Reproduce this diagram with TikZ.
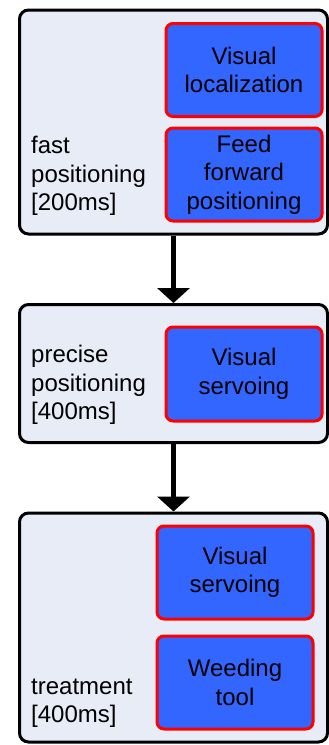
\documentclass[tikz,border=0pt]{standalone}
\usepackage{fontspec}
\setmainfont{Liberation Sans}
\usetikzlibrary{arrows.meta}
\definecolor{outerfill}{HTML}{E7ECF6}
\definecolor{innerfill}{HTML}{3366FF}
\definecolor{innerline}{HTML}{FF0000}
\tikzset{
  stage/.style={draw=black, line width=3pt, fill=outerfill, rounded corners=9pt, inner sep=0pt},
  task/.style={draw=innerline, line width=3pt, fill=innerfill, rounded corners=7pt, inner sep=0pt,
    align=center, font=\fontsize{24}{28.5}\selectfont, text=black},
  lbl/.style={align=left, inner sep=0pt, font=\fontsize{24}{28.5}\selectfont, text=black},
  flow/.style={line width=4.5pt, -{Triangle[width=32pt,length=15pt]}}
}
\begin{document}
\begin{tikzpicture}[x=1pt,y=-1pt]
\useasboundingbox (0,0) rectangle (329,745);
% outer stages
\node[stage, minimum width=308pt, minimum height=224pt] (s1) at (173.5,122) {};
\node[stage, minimum width=308pt, minimum height=138pt] (s2) at (173.5,373.5) {};
\node[stage, minimum width=308pt, minimum height=229pt] (s3) at (173.5,627.5) {};
% inner tasks
\node[task, minimum width=156pt, minimum height=93pt] (t1) at (244,70) {Visual\\localization};
\node[task, minimum width=156pt, minimum height=93pt] (t2) at (244,174.5) {Feed\\forward\\positioning};
\node[task, minimum width=156pt, minimum height=94pt] (t3) at (244,374) {Visual\\servoing};
\node[task, minimum width=156pt, minimum height=93pt] (t4) at (235,572.5) {Visual\\servoing};
\node[task, minimum width=156pt, minimum height=93pt] (t5) at (235,682.5) {Weeding\\tool};
% labels
\node[lbl, anchor=west] (l1) at (31,176) {fast\\positioning\\{[200ms]}};
\node[lbl, anchor=west] (l2) at (31,385) {precise\\positioning\\{[400ms]}};
\node[lbl, anchor=west] (l3) at (31,703) {treatment\\{[400ms]}};
% arrows
\draw[flow] (s1.south -| t3.west) ++(9,0) coordinate (a1) (a1) -- (a1 |- s2.north);
\draw[flow] (s2.south -| t3.west) ++(9,0) coordinate (a2) (a2) -- (a2 |- s3.north);
\end{tikzpicture}
\end{document}
